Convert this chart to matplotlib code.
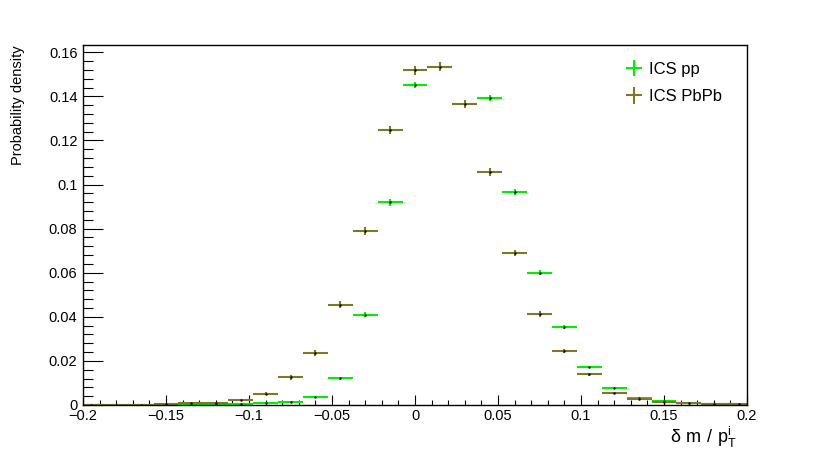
import numpy as np
import matplotlib
matplotlib.use("Agg")
import matplotlib.pyplot as plt
from matplotlib.ticker import MultipleLocator

# bin centres (bin width 0.015), -0.195 ... 0.195
centres = np.arange(-13, 14) * 0.015
half_width = 0.0075

# ICS pp (two peak bins lie above the frame, as in the original)
pp_vals = [0.0, 0.0, 0.0001, 0.0001, 0.0002, 0.0003, 0.0005, 0.0007, 0.0015,
           0.0037, 0.0122, 0.0410, 0.0919, 0.1452, 0.171, 0.168, 0.1392,
           0.0967, 0.0601, 0.0355, 0.0172, 0.0075, 0.0030, 0.0017, 0.0010, 0.0005, 0.0002]
pp_errs = [0.0, 0.0, 0.0001, 0.0001, 0.0001, 0.0001, 0.0002, 0.0002, 0.0003,
           0.0004, 0.0007, 0.0011, 0.0015, 0.0015, 0.0016, 0.0016, 0.0015,
           0.0013, 0.0011, 0.0009, 0.0006, 0.0004, 0.0003, 0.0002, 0.0002, 0.0001, 0.0001]

# ICS PbPb
pbpb_vals = [0.0, 0.0001, 0.0002, 0.0004, 0.0008, 0.0010, 0.0024, 0.0052,
             0.0125, 0.0237, 0.0454, 0.0789, 0.1248, 0.1519, 0.1535, 0.1366,
             0.1058, 0.0689, 0.0413, 0.0245, 0.0139, 0.0054, 0.0028, 0.0015, 0.0010,
             0.0006, 0.0003]
pbpb_errs = [0.0, 0.0001, 0.0001, 0.0002, 0.0002, 0.0002, 0.0005, 0.0007,
             0.0011, 0.0014, 0.0016, 0.0018, 0.0019, 0.0020, 0.0020, 0.0019,
             0.0018, 0.0015, 0.0012, 0.0009, 0.0007, 0.0005, 0.0004, 0.0003, 0.0002,
             0.0002, 0.0001]

green = "#00ee00"
olive = "#7d7821"

plt.rcParams["font.family"] = ["Liberation Sans", "DejaVu Sans"]

fig = plt.figure(figsize=(8.3, 4.5), dpi=100)
ax = fig.add_axes([0.1, 0.1, 0.8, 0.8])

eb_pp = ax.errorbar(centres, pp_vals, xerr=half_width, yerr=pp_errs, fmt="none",
                    ecolor=green, elinewidth=1.5, label="ICS pp")
ax.plot(centres, pp_vals, ".", color="black", markersize=1.5)
eb_pb = ax.errorbar(centres, pbpb_vals, xerr=half_width, yerr=pbpb_errs, fmt="none",
                    ecolor=olive, elinewidth=1.5, label="ICS PbPb")
ax.plot(centres, pbpb_vals, ".", color="black", markersize=1.5)

ax.set_xlim(-0.2, 0.2)
ax.set_ylim(0, 0.1633)

ax.xaxis.set_major_locator(MultipleLocator(0.05))
ax.xaxis.set_minor_locator(MultipleLocator(0.01))
ax.yaxis.set_major_locator(MultipleLocator(0.02))
ax.yaxis.set_minor_locator(MultipleLocator(0.004))
ax.tick_params(axis="x", which="major", direction="in", length=7.5, width=0.8,
               top=False, labelsize=10.5, pad=3)
ax.tick_params(axis="x", which="minor", direction="in", length=3.8, width=0.8, top=False)
ax.tick_params(axis="y", which="major", direction="in", length=14.5, width=0.8,
               right=False, labelsize=10.5, pad=4)
ax.tick_params(axis="y", which="minor", direction="in", length=7.2, width=0.8, right=False)

ax.xaxis.set_major_formatter(plt.FuncFormatter(lambda v, p: "0" if abs(v) < 1e-9 else ("%g" % v).replace("-", "\u2212")))
ax.yaxis.set_major_formatter(plt.FuncFormatter(lambda v, p: "0" if abs(v) < 1e-9 else "%g" % v))

for s in ax.spines.values():
    s.set_linewidth(1.0)

ax.set_xlabel(r"$\mathregular{\delta\ m\ /\ p_{T}^{i}}$", fontsize=13, loc="right", labelpad=1)
ax.xaxis.set_label_coords(0.985, -0.055, transform=ax.transAxes)
ax.xaxis.label.set_verticalalignment("top")
ax.set_ylabel("Probability density", fontsize=10.5, loc="top", labelpad=17)

leg = ax.legend(handles=[eb_pp, eb_pb], loc="upper right", bbox_to_anchor=(0.985, 0.995),
                frameon=False, fontsize=12, handlelength=1.4, handletextpad=0.2,
                labelspacing=0.75)

fig.savefig("out.png", dpi=100)
